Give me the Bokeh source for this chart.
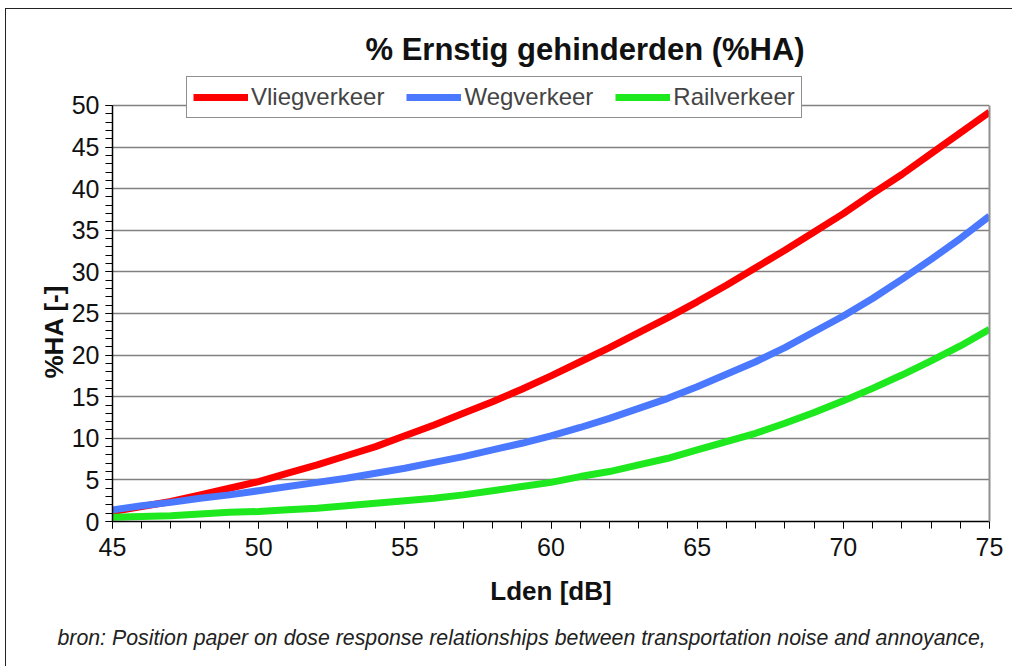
from bokeh.plotting import figure
from bokeh.models import (SingleIntervalTicker, FixedTicker, Legend, LegendItem, Range1d,
                          Title, LinearAxis)
from bokeh.embed import file_html
from bokeh.resources import INLINE

lden = list(range(45, 76))
vlieg = [1.2, 1.8, 2.4, 3.2, 4.0, 4.8, 5.8, 6.8, 7.9, 9.0, 10.3, 11.6, 13.0, 14.4, 15.9,
         17.5, 19.2, 20.9, 22.7, 24.5, 26.4, 28.4, 30.5, 32.6, 34.8, 37.0, 39.4, 41.7,
         44.2, 46.7, 49.2]
weg = [1.4, 1.9, 2.3, 2.8, 3.2, 3.7, 4.2, 4.7, 5.2, 5.8, 6.4, 7.1, 7.8, 8.6, 9.4,
       10.3, 11.3, 12.4, 13.6, 14.8, 16.2, 17.7, 19.2, 20.9, 22.8, 24.7, 26.8, 29.1,
       31.5, 34.0, 36.7]
rail = [0.5, 0.6, 0.7, 0.9, 1.1, 1.2, 1.4, 1.6, 1.9, 2.2, 2.5, 2.8, 3.2, 3.7, 4.2,
        4.7, 5.4, 6.0, 6.8, 7.6, 8.6, 9.6, 10.6, 11.8, 13.1, 14.5, 16.0, 17.6, 19.3,
        21.1, 23.1]
series_names = ["Vliegverkeer", "Wegverkeer", "Railverkeer"]
series_colors = ["#ff0000", "#4a78ff", "#1ee81e"]

title_text = "% Ernstig gehinderden (%HA)"
xlabel = "Lden [dB]"
ylabel = "%HA [-]"
source_text = ("bron: Position paper on dose response relationships between "
               "transportation noise and annoyance,")

FONT = "Liberation Sans"

p = figure(width=1007, height=658, output_backend="svg", toolbar_location=None,
           x_range=Range1d(45, 75), y_range=Range1d(0, 54.2),
           min_border_left=106, min_border_right=24, min_border_top=61,
           min_border_bottom=146)
p.styles = {"border-left": "1px solid #222222", "border-top": "1px solid #222222",
            "box-sizing": "border-box", "margin-left": "5px", "margin-top": "8px"}
p.background_fill_color = "white"
p.border_fill_color = "white"
p.outline_line_color = None

p.xgrid.visible = False
p.ygrid.grid_line_color = "#808080"
p.ygrid.grid_line_width = 1.5
p.ygrid.ticker = SingleIntervalTicker(interval=5, num_minor_ticks=5)

p.xaxis.ticker = SingleIntervalTicker(interval=5, num_minor_ticks=5)
p.yaxis.ticker = SingleIntervalTicker(interval=5, num_minor_ticks=5)
p.yaxis.bounds = (0, 50)
for ax in (p.xaxis[0], p.yaxis[0]):
    ax.axis_line_color = "black"
    ax.axis_line_width = 1.5
    ax.major_tick_line_color = "black"
    ax.minor_tick_line_color = "black"
    ax.major_tick_out = 7
    ax.major_tick_in = 0
    ax.minor_tick_out = 7
    ax.minor_tick_in = 0
    ax.major_label_text_font = FONT
    ax.major_label_text_font_size = "25px"
    ax.major_label_text_color = "#111111"
p.xaxis.major_label_standoff = 9
p.yaxis.major_label_standoff = 6
p.xaxis.axis_label = xlabel
p.xaxis.axis_label_text_font = FONT
p.xaxis.axis_label_text_font_style = "bold"
p.xaxis.axis_label_text_font_size = "26px"
p.xaxis.axis_label_text_color = "#111111"
p.xaxis.axis_label_standoff = 17

# right plot-area border (an unlabelled axis)
rax = LinearAxis(bounds=(0, 50), ticker=FixedTicker(ticks=[]),
                 axis_line_color="#909090", axis_line_width=2,
                 major_tick_line_color=None, minor_tick_line_color=None)
p.add_layout(rax, "right")

renderers = []
for ys, c in zip([vlieg, weg, rail], series_colors):
    r = p.line(lden, ys, line_color=c, line_width=7)
    renderers.append(r)

legend = Legend(items=[LegendItem(label=n, renderers=[r]) for n, r in zip(series_names, renderers)],
                orientation="horizontal", location=(74, 403))
legend.label_text_font = FONT
legend.label_text_font_size = "24px"
legend.label_standoff = 3
legend.glyph_width = 55
legend.glyph_height = 20
legend.spacing = 22
legend.padding = 6
legend.margin = 0
legend.border_line_color = "#222222"
legend.border_line_width = 1.5
legend.background_fill_alpha = 1
p.add_layout(legend, "center")

# title
p.title.text = title_text
p.title.text_font = FONT
p.title.text_font_style = "bold"
p.title.text_font_size = "31px"
p.title.text_color = "#111111"
p.title.align = "left"
p.title.offset = 253
p.title.standoff = 8

# y label
p.add_layout(Title(text=ylabel, text_font=FONT, text_font_style="bold",
                   text_font_size="26px", text_color="#111111", align="left",
                   offset=143, standoff=0), "left")
# source
p.add_layout(Title(text=source_text, text_font=FONT, text_font_style="italic",
                   text_font_size="21.3px", text_color="#222222", align="left",
                   offset=-55, standoff=30), "below")

open("out.html", "w").write(file_html(p, INLINE))
